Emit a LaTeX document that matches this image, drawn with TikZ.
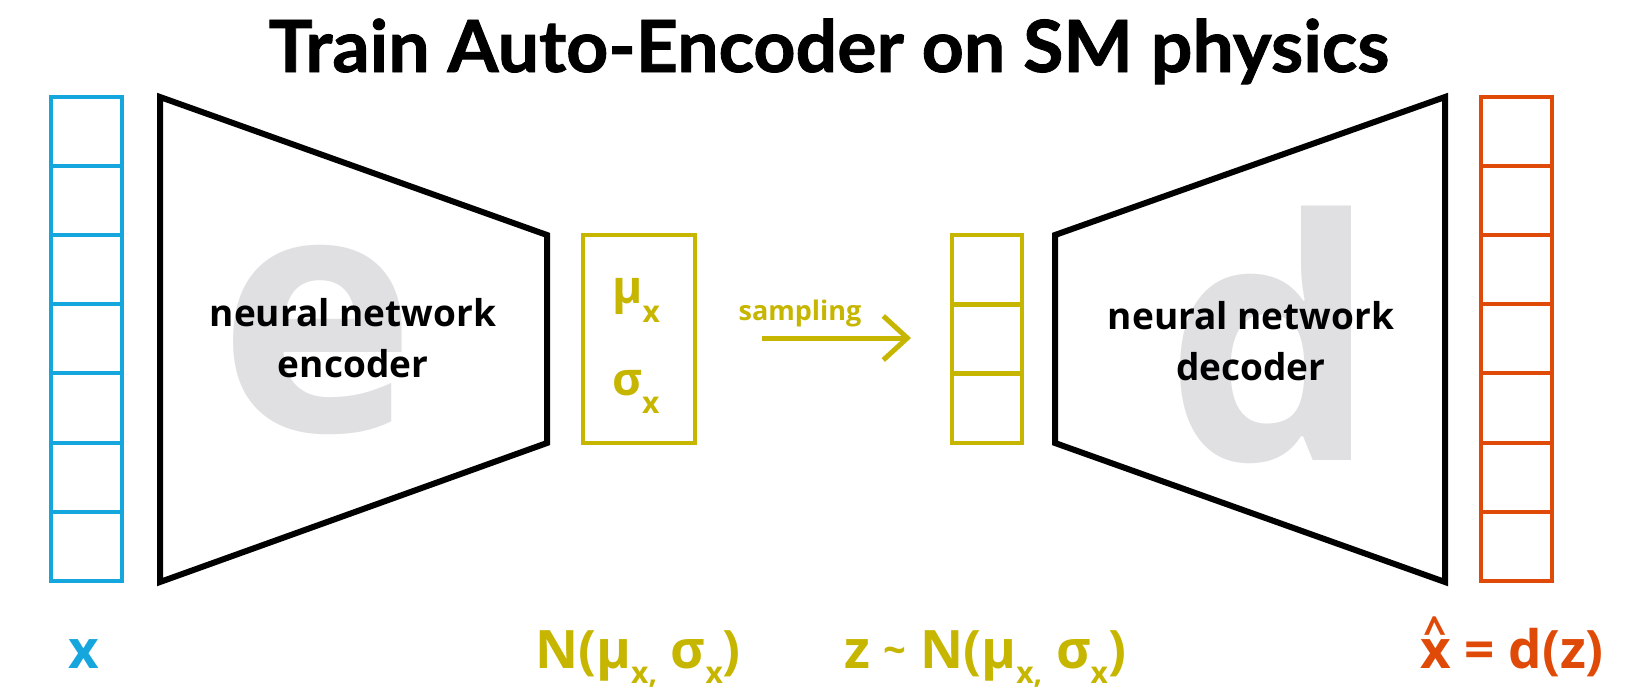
\documentclass[tikz,border=0pt]{standalone}
\usepackage{fontspec}
\setmainfont{Open Sans}
\newfontfamily\titlefont{Lato}[FakeStretch=1.02, FakeBold=1.2]
\usetikzlibrary{arrows.meta}

\definecolor{inblue}{RGB}{22,166,222}
\definecolor{latyel}{RGB}{198,182,0}
\definecolor{outora}{RGB}{224,74,8}
\definecolor{ghost}{RGB}{224,224,227}

% subscript helper: lowered, smaller letter
\newcommand\lowsub[3]{\raisebox{-#2}{\fontsize{#1}{#1}\selectfont #3}}

\begin{document}
\begin{tikzpicture}[x=1pt,y=-1pt,
  cellbox/.style={draw, line width=4pt, minimum width=71pt, minimum height=69.1pt, inner sep=0pt},
  incell/.style={cellbox, inblue},
  outcell/.style={cellbox, outora},
  zcell/.style={cellbox, latyel, line width=4.5pt, minimum width=70pt, minimum height=69.3pt},
  netshape/.style={draw=black, line width=6pt, line join=miter},
  ghostletter/.style={text=ghost, font=\fontsize{335}{335}\selectfont\bfseries, inner sep=0pt},
  nettext/.style={align=center, font=\fontsize{37}{51}\selectfont\bfseries, inner sep=0pt},
  varlabel/.style={font=\fontsize{53}{53}\selectfont\bfseries, inner sep=0pt, anchor=base},
]
\useasboundingbox (0,0) rectangle (1650,689);

% title
\node[anchor=base, inner sep=0pt, font=\titlefont\fontsize{72}{72}\selectfont\bfseries] (title) at (829,72) {Train Auto-Encoder on SM physics};

% input vector x
\foreach \i in {0,...,6} {
  \node[incell] (in\i) at (86.5,{131.6+69.1*\i}) {};
}

% encoder
\node[ghostletter, anchor=base] (eglyph) at (317,431) {e};
\coordinate (e1) at (160,97);
\coordinate (e2) at (547,235);
\coordinate (e3) at (547,443);
\coordinate (e4) at (160,582);
\draw[netshape] (e1) -- (e2) -- (e3) -- (e4) -- cycle;
\node[nettext] (enctext) at (353,338) {neural network\\encoder};

% latent parameters
\node[draw=latyel, line width=4.5pt, minimum width=112pt, minimum height=208pt, inner sep=0pt] (params) at (639,339) {};
\node[anchor=base west, inner sep=0pt, text=latyel, font=\fontsize{46}{46}\selectfont\bfseries] (mu) at (612,303) {μ\lowsub{30}{19pt}{x}};
\node[anchor=base west, inner sep=0pt, text=latyel, font=\fontsize{46}{46}\selectfont\bfseries] (sigma) at (612,395) {σ\lowsub{30}{18pt}{x}};

% sampled latent vector z
\foreach \i in {0,1,2} {
  \node[zcell] (z\i) at (987,{269.7+69.3*\i}) {};
}

% sampling arrow
\coordinate (sa) at (762,338);
\coordinate (sb) at (911,338);
\draw[latyel, line width=5pt, -{Straight Barb[length=24pt, width=44pt, line width=5pt]}] (sa) -- (sb);
\node[anchor=base, inner sep=0pt, text=latyel, font=\fontsize{27}{27}\selectfont\bfseries] (samp) at (800,320) {sampling};

% decoder
\node[ghostletter, anchor=base] (dglyph) at (1271,460) {d};
\coordinate (d1) at (1055,235);
\coordinate (d2) at (1445,97);
\coordinate (d3) at (1445,582);
\coordinate (d4) at (1055,443);
\draw[netshape] (d1) -- (d2) -- (d3) -- (d4) -- cycle;
\node[nettext] (dectext) at (1251,341) {neural network\\decoder};

% output vector
\foreach \i in {0,...,6} {
  \node[outcell] (out\i) at (1516,{131.6+69.1*\i}) {};
}

% labels below
\node[varlabel, text=inblue] (xlab) at (84,668) {x};
\node[varlabel, text=latyel] (nlab) at (638,668) {N(μ\lowsub{30}{15pt}{x,} σ\lowsub{30}{15pt}{x})};
\node[varlabel, text=latyel] (zlab) at (985,668) {z {\raisebox{4pt}{\fontsize{40}{40}\selectfont\char`~}} N(μ\lowsub{30}{15pt}{x,} σ\lowsub{30}{15pt}{x})};
\node[varlabel, text=outora] (xhatlab) at (1512,668) {\ooalign{x\cr\hidewidth\raisebox{23pt}{\fontsize{40}{40}\selectfont\textasciicircum}\hidewidth\cr} = d(z)};
\end{tikzpicture}
\end{document}
